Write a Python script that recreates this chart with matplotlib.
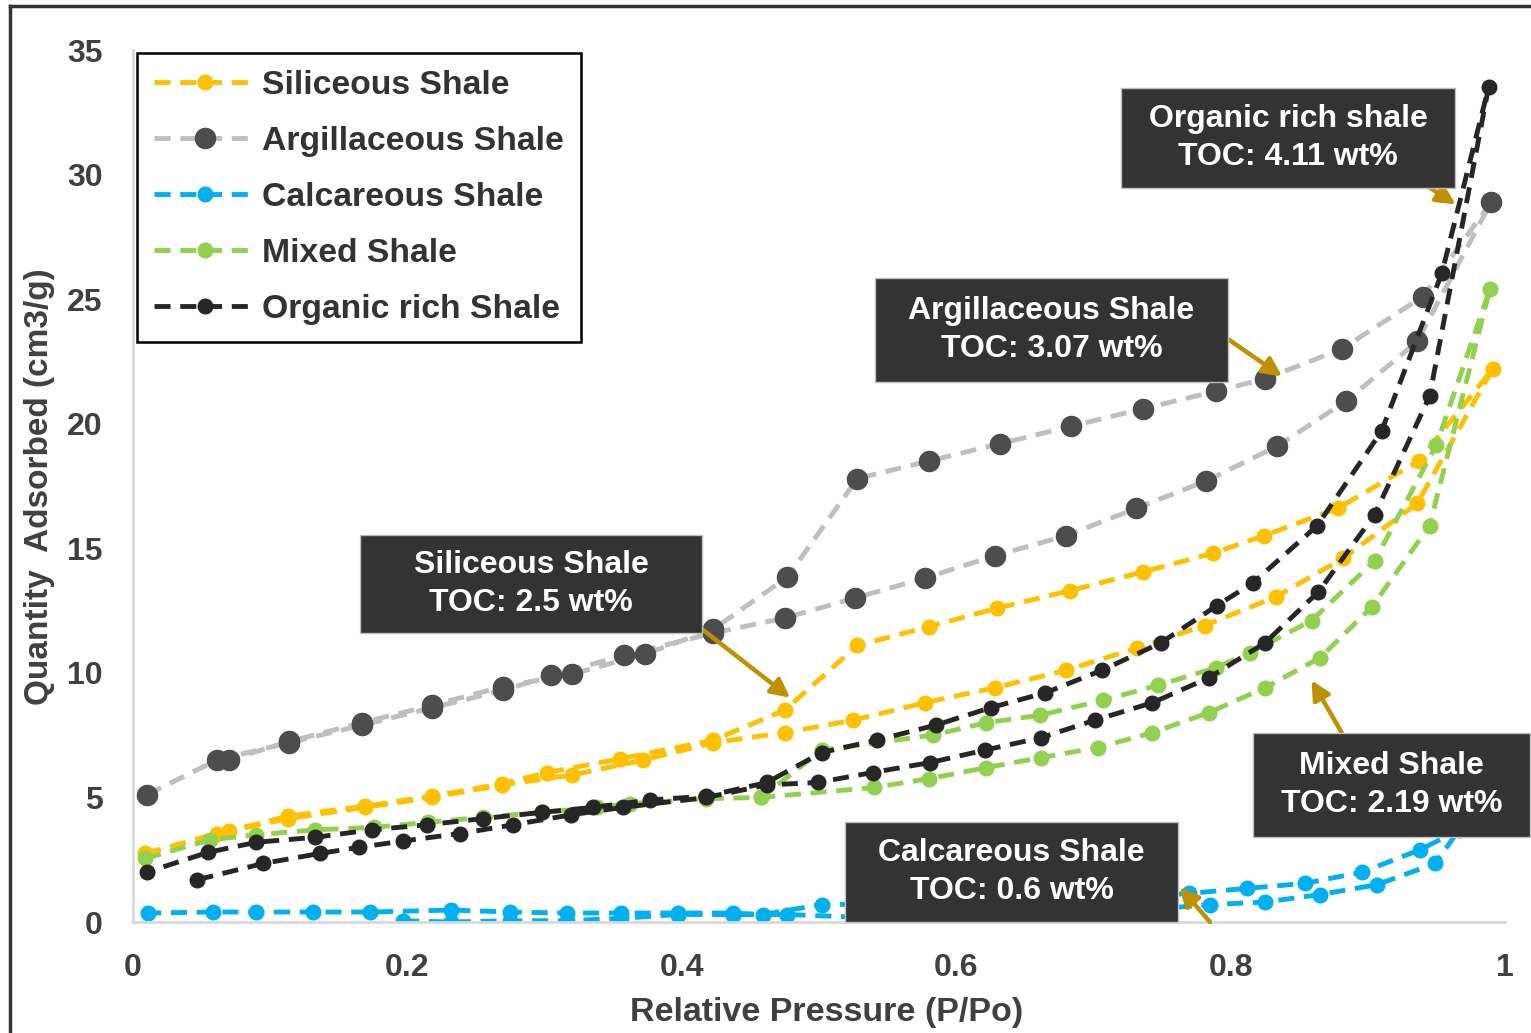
import matplotlib
matplotlib.use("Agg")
from matplotlib import pyplot as plt
from matplotlib.patches import Rectangle
from matplotlib.lines import Line2D

# ---------------- data ----------------
# each series: adsorption branch then desorption branch, drawn as one line
sil_ads_x = [0.009, 0.061, 0.113, 0.169, 0.218, 0.269, 0.32, 0.372, 0.423, 0.475, 0.525, 0.577,
             0.628, 0.68, 0.732, 0.781, 0.833, 0.882, 0.936, 0.991]
sil_ads_y = [2.75, 3.55, 4.15, 4.6, 5.0, 5.5, 5.9, 6.5, 7.2, 7.6, 8.1, 8.8,
             9.4, 10.1, 11.0, 11.9, 13.05, 14.6, 16.8, 22.2]
sil_des_x = [0.937, 0.878, 0.824, 0.787, 0.736, 0.683, 0.63, 0.58, 0.528, 0.475, 0.423,
             0.355, 0.302, 0.269, 0.218, 0.169, 0.113, 0.07]
sil_des_y = [18.5, 16.6, 15.5, 14.8, 14.05, 13.3, 12.6, 11.85, 11.1, 8.5, 7.3,
             6.55, 6.0, 5.55, 5.05, 4.65, 4.25, 3.65]

arg_ads_x = [0.01, 0.061, 0.114, 0.167, 0.218, 0.27, 0.305, 0.358, 0.423, 0.475, 0.526, 0.577,
             0.628, 0.68, 0.731, 0.782, 0.834, 0.884, 0.936, 0.99]
arg_ads_y = [5.1, 6.5, 7.2, 7.9, 8.6, 9.3, 9.9, 10.7, 11.6, 12.2, 13.0, 13.8,
             14.7, 15.5, 16.6, 17.7, 19.1, 20.9, 23.3, 28.9]
arg_des_x = [0.94, 0.881, 0.825, 0.789, 0.736, 0.684, 0.632, 0.58, 0.528, 0.477, 0.423,
             0.373, 0.32, 0.27, 0.218, 0.167, 0.114, 0.07]
arg_des_y = [25.1, 23.0, 21.8, 21.3, 20.6, 19.9, 19.2, 18.5, 17.8, 13.85, 11.75,
             10.75, 9.95, 9.45, 8.7, 8.0, 7.25, 6.5]

cal_ads_x = [0.197, 0.232, 0.275, 0.316, 0.356, 0.397, 0.437, 0.477, 0.55, 0.65, 0.74,
             0.785, 0.825, 0.865, 0.907, 0.949, 0.99]
cal_ads_y = [0.05, 0.0, 0.05, 0.05, 0.15, 0.3, 0.3, 0.3, 0.15, 0.3, 0.5,
             0.7, 0.8, 1.1, 1.5, 2.35, 5.5]
cal_des_x = [0.967, 0.938, 0.896, 0.854, 0.812, 0.77, 0.7, 0.6, 0.502, 0.459, 0.437,
             0.397, 0.356, 0.316, 0.275, 0.232, 0.173, 0.131, 0.09, 0.058, 0.011]
cal_des_y = [3.7, 2.9, 2.0, 1.55, 1.35, 1.15, 0.9, 0.75, 0.7, 0.3, 0.36,
             0.36, 0.36, 0.36, 0.4, 0.48, 0.4, 0.4, 0.4, 0.4, 0.36]

mix_ads_x = [0.009, 0.056, 0.09, 0.133, 0.176, 0.215, 0.255, 0.298, 0.338, 0.362, 0.418,
             0.458, 0.54, 0.58, 0.622, 0.662, 0.703, 0.743, 0.784, 0.825, 0.865, 0.903,
             0.945, 0.989]
mix_ads_y = [2.55, 3.3, 3.5, 3.7, 3.8, 4.0, 4.2, 4.4, 4.6, 4.75, 4.95,
             5.0, 5.4, 5.75, 6.2, 6.6, 7.0, 7.6, 8.4, 9.4, 10.6, 12.65,
             15.9, 25.4]
mix_des_x = [0.95, 0.905, 0.859, 0.814, 0.789, 0.747, 0.707, 0.661, 0.622, 0.583, 0.502, 0.458]
mix_des_y = [19.15, 14.5, 12.1, 10.8, 10.2, 9.5, 8.9, 8.3, 8.0, 7.5, 6.9, 5.0]

org_ads_x = [0.047, 0.095, 0.136, 0.165, 0.197, 0.238, 0.277, 0.319, 0.357, 0.418, 0.462,
             0.499, 0.539, 0.581, 0.621, 0.662, 0.701, 0.743, 0.784, 0.825, 0.864, 0.905,
             0.945, 0.988]
org_ads_y = [1.7, 2.35, 2.75, 3.0, 3.25, 3.55, 3.9, 4.3, 4.6, 5.0, 5.5,
             5.6, 6.0, 6.4, 6.9, 7.4, 8.1, 8.8, 9.8, 11.2, 13.25, 16.35,
             21.1, 33.5]
org_des_x = [0.954, 0.91, 0.863, 0.816, 0.79, 0.749, 0.706, 0.665, 0.625, 0.585, 0.542,
             0.502, 0.462, 0.418, 0.377, 0.335, 0.298, 0.255, 0.214, 0.174, 0.133, 0.09,
             0.055, 0.01]
org_des_y = [26.05, 19.7, 15.9, 13.6, 12.7, 11.2, 10.1, 9.2, 8.6, 7.9, 7.3,
             6.8, 5.6, 5.05, 4.9, 4.6, 4.4, 4.15, 3.9, 3.7, 3.4, 3.2,
             2.8, 2.0]

series_names = ["Siliceous Shale", "Argillaceous Shale", "Calcareous Shale",
                "Mixed Shale", "Organic rich Shale"]

box_titles = ["Siliceous Shale", "Argillaceous Shale", "Calcareous Shale",
              "Mixed Shale", "Organic rich shale"]
box_toc = ["TOC: 2.5 wt%", "TOC: 3.07 wt%", "TOC: 0.6 wt%", "TOC: 2.19 wt%", "TOC: 4.11 wt%"]

x_ticks = [0, 0.2, 0.4, 0.6, 0.8, 1]
x_tick_labels = ["0", "0.2", "0.4", "0.6", "0.8", "1"]
y_ticks = [0, 5, 10, 15, 20, 25, 30, 35]

# ---------------- figure ----------------
W, H = 1531, 1033
fig = plt.figure(figsize=(W / 100, H / 100), dpi=100)
ax = fig.add_axes([133 / W, 1 - 922 / H, (1505 - 133) / W, (922 - 50) / H])

narrow = ["Liberation Sans Narrow", "Liberation Sans", "DejaVu Sans"]
bold_font = ["Liberation Sans", "DejaVu Sans"]
txt_col = "#404040"

styles = [
    dict(color="#FFC000", mfc="#FFC000", mec="#FFC000", ms=10.5),
    dict(color="#BFBFBF", mfc="#4D4D4D", mec="#4D4D4D", ms=14.5),
    dict(color="#00B0F0", mfc="#00B0F0", mec="#00B0F0", ms=10.5),
    dict(color="#92D050", mfc="#92D050", mec="#92D050", ms=10.5),
    dict(color="#262626", mfc="#262626", mec="#262626", ms=10.5),
]
all_x = [sil_ads_x + sil_des_x, arg_ads_x + arg_des_x, cal_ads_x + cal_des_x,
         mix_ads_x + mix_des_x, org_ads_x + org_des_x]
all_y = [sil_ads_y + sil_des_y, arg_ads_y + arg_des_y, cal_ads_y + cal_des_y,
         mix_ads_y + mix_des_y, org_ads_y + org_des_y]

for xs, ys, name, st in zip(all_x, all_y, series_names, styles):
    ax.plot(xs, ys, marker="o", linestyle=(0, (3.3, 2.0)), lw=3.5, label=name, **st)

ax.set_xlim(0, 1)
ax.set_ylim(0, 35)
ax.set_xticks(x_ticks)
ax.set_xticklabels(x_tick_labels)
ax.set_yticks(y_ticks)
ax.tick_params(length=0, pad=22, labelsize=23, labelcolor=txt_col)
for lab in ax.get_xticklabels() + ax.get_yticklabels():
    lab.set_family(narrow)
    lab.set_fontweight("bold")
for s in ["top", "right"]:
    ax.spines[s].set_visible(False)
for s in ["left", "bottom"]:
    ax.spines[s].set_color("#D9D9D9")
    ax.spines[s].set_linewidth(2)

fig.text(827 / W, 1 - 1013 / H, "Relative Pressure (P/Po)", ha="center", va="center",
         fontsize=24.5, fontweight="bold", family=narrow, color=txt_col)
fig.text(40 / W, 1 - 487 / H, "Quantity  Adsorbed (cm3/g)", ha="center", va="center",
         rotation=90, fontsize=24, fontweight="bold", family=narrow, color=txt_col)

leg = ax.legend(loc="upper left", bbox_to_anchor=(137 / W, 1 - 53 / H),
                bbox_transform=fig.transFigure, borderaxespad=0, frameon=True,
                fancybox=False, framealpha=1, edgecolor="black",
                prop=dict(family=bold_font, weight="bold", size=24.3),
                handlelength=3.0, handletextpad=0.2, labelspacing=0.74,
                borderpad=0.5)
leg.get_frame().set_linewidth(1.8)
for t in leg.get_texts():
    t.set_color("#333333")

# annotation boxes (pixel extents in the figure) and arrows (data coords)
boxes = [(360, 535, 702, 633), (875, 278, 1228, 382), (845, 822, 1178, 922),
         (1253, 733, 1530, 837), (1121, 88, 1455, 188)]
arrows = [((0.402, 12.3), (0.479, 9.0)), ((0.798, 23.4), (0.8375, 21.9)),
          ((0.785, 0.0), (0.763, 1.4)), ((0.881, 7.6), (0.859, 9.7)),
          ((0.922, 30.3), (0.964, 28.8))]

for (x0, y0, x1, y1), title, toc in zip(boxes, box_titles, box_toc):
    fig.patches.append(Rectangle((x0 / W, 1 - y1 / H), (x1 - x0) / W, (y1 - y0) / H,
                                 transform=fig.transFigure, facecolor="#333333",
                                 edgecolor="#BFBFBF", lw=1, zorder=5))
    cx = (x0 + x1) / 2 / W
    cy = 1 - (y0 + y1) / 2 / H
    fig.text(cx, cy, title + "\n" + toc, ha="center", va="center", color="white",
             fontsize=23, fontweight="bold", family=bold_font, linespacing=1.38, zorder=6)

for (tail, head) in arrows:
    ax.annotate("", xy=head, xytext=tail, annotation_clip=False,
                arrowprops=dict(arrowstyle="-|>", mutation_scale=28, lw=3.2,
                                color="#BF9000", shrinkA=0, shrinkB=0))

# figure frame (dark border at the left and top)
fig.lines.append(Line2D([10 / W, 10 / W], [0, 1 - 6 / H], transform=fig.transFigure,
                        color="#333333", lw=2.5))
fig.lines.append(Line2D([10 / W, 1], [1 - 6 / H, 1 - 6 / H], transform=fig.transFigure,
                        color="#333333", lw=2.5))

fig.savefig("out.png", dpi=100)
